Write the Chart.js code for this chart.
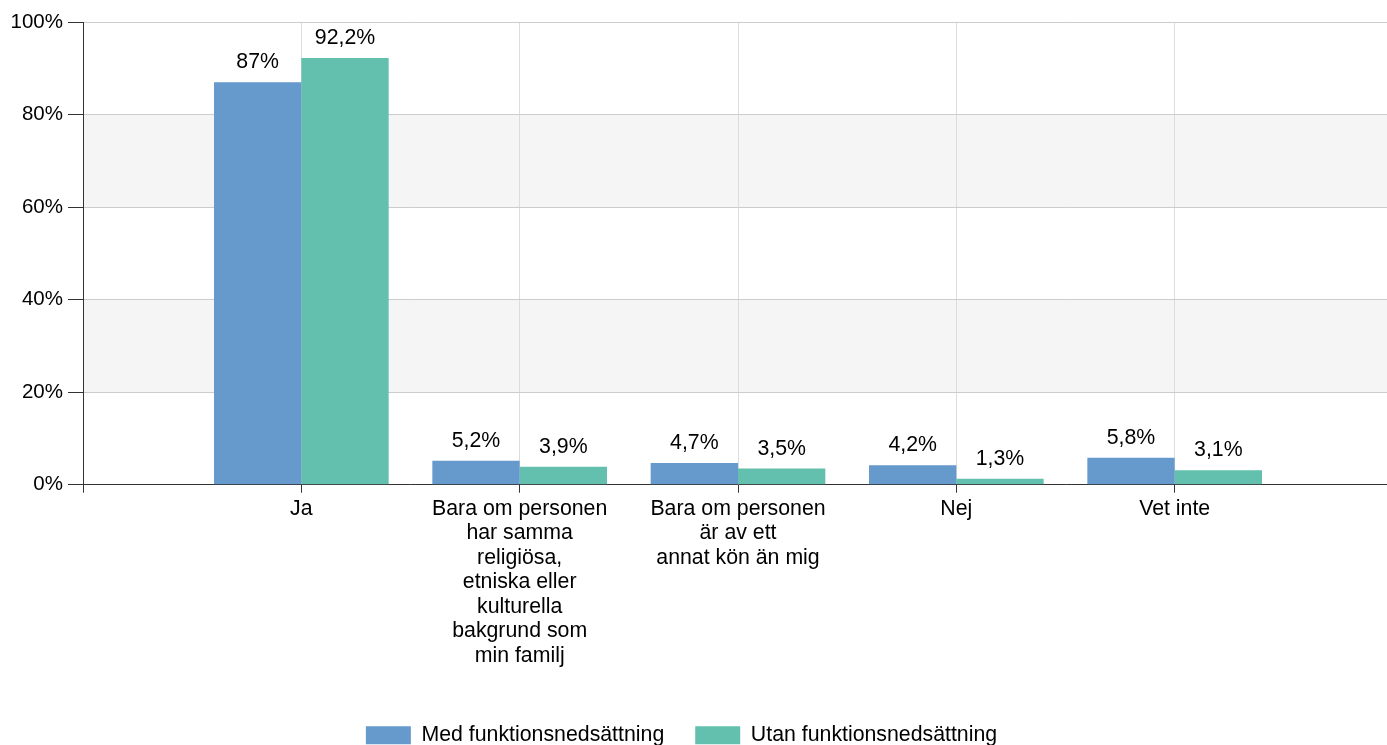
<!DOCTYPE html>
<html lang="sv">
<head>
<meta charset="utf-8">
<title>Svar per grupp</title>
<script src="https://cdn.jsdelivr.net/npm/chart.js@4/dist/chart.umd.min.js"></script>
<style>
  html, body { margin: 0; padding: 0; background: #fff; overflow: hidden; width: 1387px; height: 745px; }
  #wrap { position: absolute; left: -34px; top: 0; }
</style>
</head>
<body>
<div id="wrap"><canvas id="chart" width="1431" height="756"></canvas></div>
<script>
// Answer categories (empty slots at both ends keep the outer gridlines in place)
const categories = [
  '',
  ['Ja'],
  ['Bara om personen', 'har samma', 'religiösa,', 'etniska eller', 'kulturella', 'bakgrund som', 'min familj'],
  ['Bara om personen', 'är av ett', 'annat kön än mig'],
  ['Nej'],
  ['Vet inte'],
  ''
];
const seriesNames = ['Med funktionsnedsättning', 'Utan funktionsnedsättning'];
const medValues = [null, 87, 5.2, 4.7, 4.2, 5.8, null];
const utanValues = [null, 92.2, 3.9, 3.5, 1.3, 3.1, null];
const yTicks = [0, 20, 40, 60, 80, 100];

const FONT = "'Liberation Sans', Arial, sans-serif";
const TEXT_SIZE = 21.3;
const fmt = v => String(v).replace('.', ',') + '%';

// Light grey bands behind every other 20 % step
const bandPlugin = {
  id: 'bands',
  beforeDraw(chart) {
    const { ctx, chartArea, scales: { y } } = chart;
    ctx.save();
    ctx.fillStyle = '#f5f5f5';
    for (let i = 1; i < yTicks.length - 1; i += 2) {
      const top = y.getPixelForValue(yTicks[i + 1]);
      const bottom = y.getPixelForValue(yTicks[i]);
      ctx.fillRect(chartArea.left, top, chartArea.right - chartArea.left, bottom - top);
    }
    ctx.restore();
  }
};

// Value label above each bar
const valueLabels = {
  id: 'valueLabels',
  afterDatasetsDraw(chart) {
    const { ctx } = chart;
    ctx.save();
    ctx.font = TEXT_SIZE + 'px ' + FONT;
    ctx.fillStyle = '#000';
    ctx.textAlign = 'center';
    ctx.textBaseline = 'alphabetic';
    chart.data.datasets.forEach((ds, di) => {
      chart.getDatasetMeta(di).data.forEach((bar, i) => {
        const v = ds.data[i];
        if (v === null || v === undefined) return;
        ctx.fillText(fmt(v), bar.x, bar.y - 14);
      });
    });
    ctx.restore();
  }
};

new Chart(document.getElementById('chart'), {
  type: 'bar',
  data: {
    labels: categories,
    datasets: [
      { label: seriesNames[0], data: medValues, backgroundColor: '#6699cc' },
      { label: seriesNames[1], data: utanValues, backgroundColor: '#63c0ae' }
    ]
  },
  options: {
    responsive: false,
    devicePixelRatio: 1,
    animation: false,
    categoryPercentage: 0.8,
    barPercentage: 1,
    layout: { padding: { top: 22, left: 0, right: 0, bottom: 0 } },
    plugins: {
      legend: {
        position: 'bottom',
        labels: {
          boxWidth: 45,
          boxHeight: 18,
          padding: 31,
          color: '#000',
          font: { family: FONT, size: TEXT_SIZE }
        }
      },
      tooltip: { enabled: false }
    },
    scales: {
      x: {
        offset: false,
        grid: { offset: false, color: '#dcdcdc', tickColor: '#333', tickLength: 8 },
        border: { color: '#333' },
        ticks: {
          autoSkip: false,
          maxRotation: 0,
          padding: 4,
          color: '#000',
          font: { family: FONT, size: TEXT_SIZE, lineHeight: 1.15 }
        },
        afterFit(scale) { scale.height = 209; }
      },
      y: {
        min: 0,
        max: 100,
        grid: { color: '#cccccc', tickColor: '#333', tickLength: 15 },
        border: { color: '#333' },
        ticks: {
          stepSize: 20,
          padding: 5,
          color: '#000',
          font: { family: FONT, size: 20.5 },
          callback: v => v + '%'
        },
        afterFit(scale) { scale.width = 117; }
      }
    }
  },
  plugins: [bandPlugin, valueLabels]
});
</script>
</body>
</html>
